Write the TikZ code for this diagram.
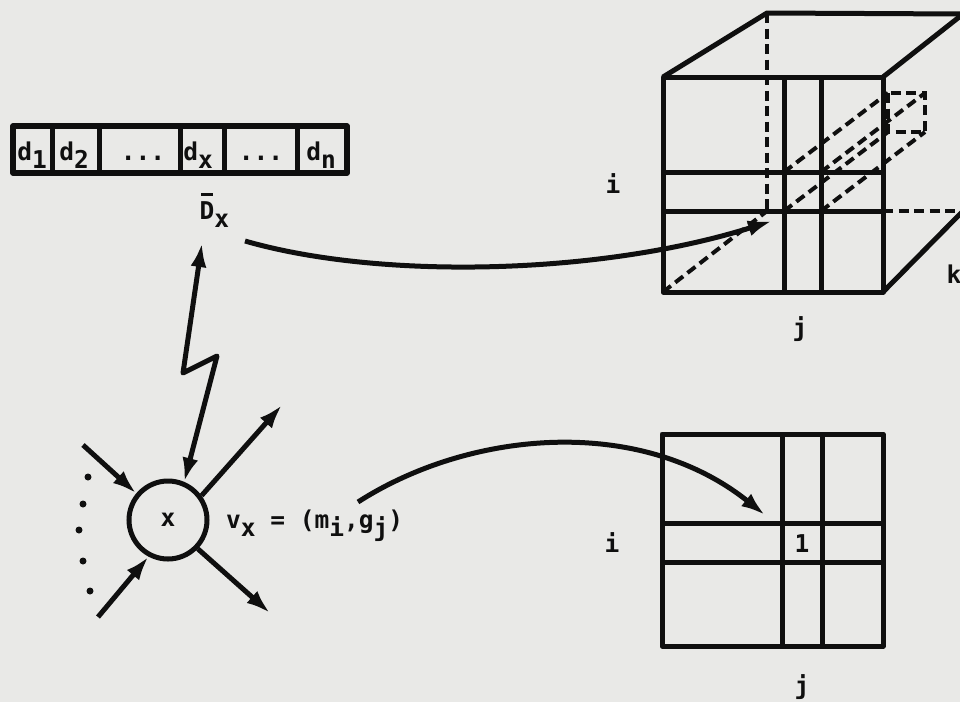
\documentclass[tikz,border=0pt]{standalone}
\usepackage{fontspec}
\newfontfamily\tw{DejaVu Sans Mono Bold}
\usetikzlibrary{arrows.meta}
\definecolor{paper}{RGB}{233,233,231}
\definecolor{ink}{RGB}{15,15,15}
\newcommand\lo[1]{\raisebox{-0.36em}{#1}}
\newcommand\barD{\rlap{\hspace{0.07em}\raisebox{0.93em}{\rule{0.48em}{2.8pt}}}D}
\begin{document}
\begin{tikzpicture}[x=1pt,y=-1pt,
  inkline/.style={draw=ink, line width=5pt, line join=round},
  hid/.style={draw=ink, line width=4pt, dash pattern=on 10pt off 5.5pt},
  arr/.style={inkline, -{Latex[length=24pt,width=16pt]}},
  lbl/.style={font=\tw\fontsize{24.5}{28}\selectfont, text=ink, inner sep=0pt, anchor=base},
]
\fill[paper] (0,0) rectangle (960,702);
\useasboundingbox (0,0) rectangle (960,702);

% ---------- array d_1 ... d_n ----------
\draw[inkline, line width=5.4pt] (13,126) rectangle (347,173);
\foreach \x in {52,99,180,224,297} \draw[inkline] (\x,126) -- (\x,173);
\node[lbl] (d1) at (32,160) {d\lo{1}};
\node[lbl] (d2) at (74,160) {d\lo{2}};
\node[lbl] (dots1) at (143,160) {...};
\node[lbl] (dx) at (198,160) {d\lo{x}};
\node[lbl] (dots2) at (261,160) {...};
\node[lbl] (dn) at (321,160) {d\lo{n}};
\node[lbl, anchor=base west] (Dx) at (199.5,219) {\barD\lo{x}};

% ---------- vertex x ----------
\node[circle, draw=ink, line width=5pt, minimum size=78pt, inner sep=0pt,
      font=\tw\fontsize{24.5}{28}\selectfont, text=ink] (xn) at (168,520) {x};
\node[lbl, anchor=base west] (vx) at (226,528) {v\lo{x} = (m\lo{i},g\lo{j})};

\foreach \p/\y in {88/477,83/504,79/530,83/561,90/591}
  \fill[ink] (\p,\y) circle (3.5pt);

\coordinate (ulin) at (83,445);
\coordinate (llin) at (98,617);
\coordinate (urout) at (282,405);
\coordinate (lrout) at (270,613);
\coordinate (dtip) at (202,243);
\coordinate (zz1) at (217,356);
\coordinate (zz2) at (183,373);
\draw[arr] (ulin) -- (xn.140);
\draw[arr] (llin) -- (xn.242);
\draw[arr] (xn.36) -- (urout);
\draw[arr] (xn.316) -- (lrout);
\draw[inkline, {Latex[length=24pt,width=16pt]}-{Latex[length=24pt,width=16pt]}]
  (xn.67) -- (zz1) -- (zz2) -- (dtip);

% ---------- cube ----------
\coordinate (FTL) at (663,77);
\coordinate (FTR) at (883,77);
\coordinate (FBR) at (883,292);
\coordinate (FBL) at (663,292);
\coordinate (BTL) at (767,13);
\coordinate (BTR) at (963,14);
\coordinate (BBL) at (767,211);
\coordinate (BBR) at (963,211);
% hidden edges
\draw[hid] (BTL) -- (BBL);
\draw[hid] (FBL) -- (BBL);
\draw[hid] (883,211) -- (BBR);
% cell tube to back
\draw[hid] (888,93) rectangle (925,132);
\draw[hid] (784,172) -- (888,93);
\draw[hid] (821,172) -- (925,93);
\draw[hid] (784,211) -- (888,132);
\draw[hid] (821,211) -- (925,132);
% visible edges
\draw[inkline] (FTL) rectangle (FBR);
\draw[inkline] (FTL) -- (BTL) -- (BTR);
\draw[inkline] (FTR) -- (BTR);
\draw[inkline] (FBR) -- (BBR);
\draw[inkline] (663,172) -- (883,172);
\draw[inkline] (663,211) -- (883,211);
\draw[inkline] (784,77) -- (784,292);
\draw[inkline] (821,77) -- (821,292);
\node[lbl] (ci) at (613,193) {i};
\node[lbl] (cj) at (800,336) {j};
\node[lbl] (ck) at (954,283) {k};

% ---------- matrix ----------
\draw[inkline] (662,434) rectangle (883,646);
\draw[inkline] (662,523) -- (883,523);
\draw[inkline] (662,562) -- (883,562);
\draw[inkline] (782,434) -- (782,646);
\draw[inkline] (822,434) -- (822,646);
\node[lbl] (one) at (802,552) {1};
\node[lbl] (mi) at (612,552) {i};
\node[lbl] (mj) at (802,694) {j};

% ---------- mapping curves ----------
\coordinate (topstart) at (245,241);
\coordinate (topend) at (772,221);
\coordinate (lowstart) at (358,502);
\coordinate (lowend) at (765,515);
\draw[arr] (topstart) .. controls (380,280) and (600,275) .. (topend);
\draw[arr] (lowstart) .. controls (470,430) and (640,415) .. (lowend);
\end{tikzpicture}
\end{document}
